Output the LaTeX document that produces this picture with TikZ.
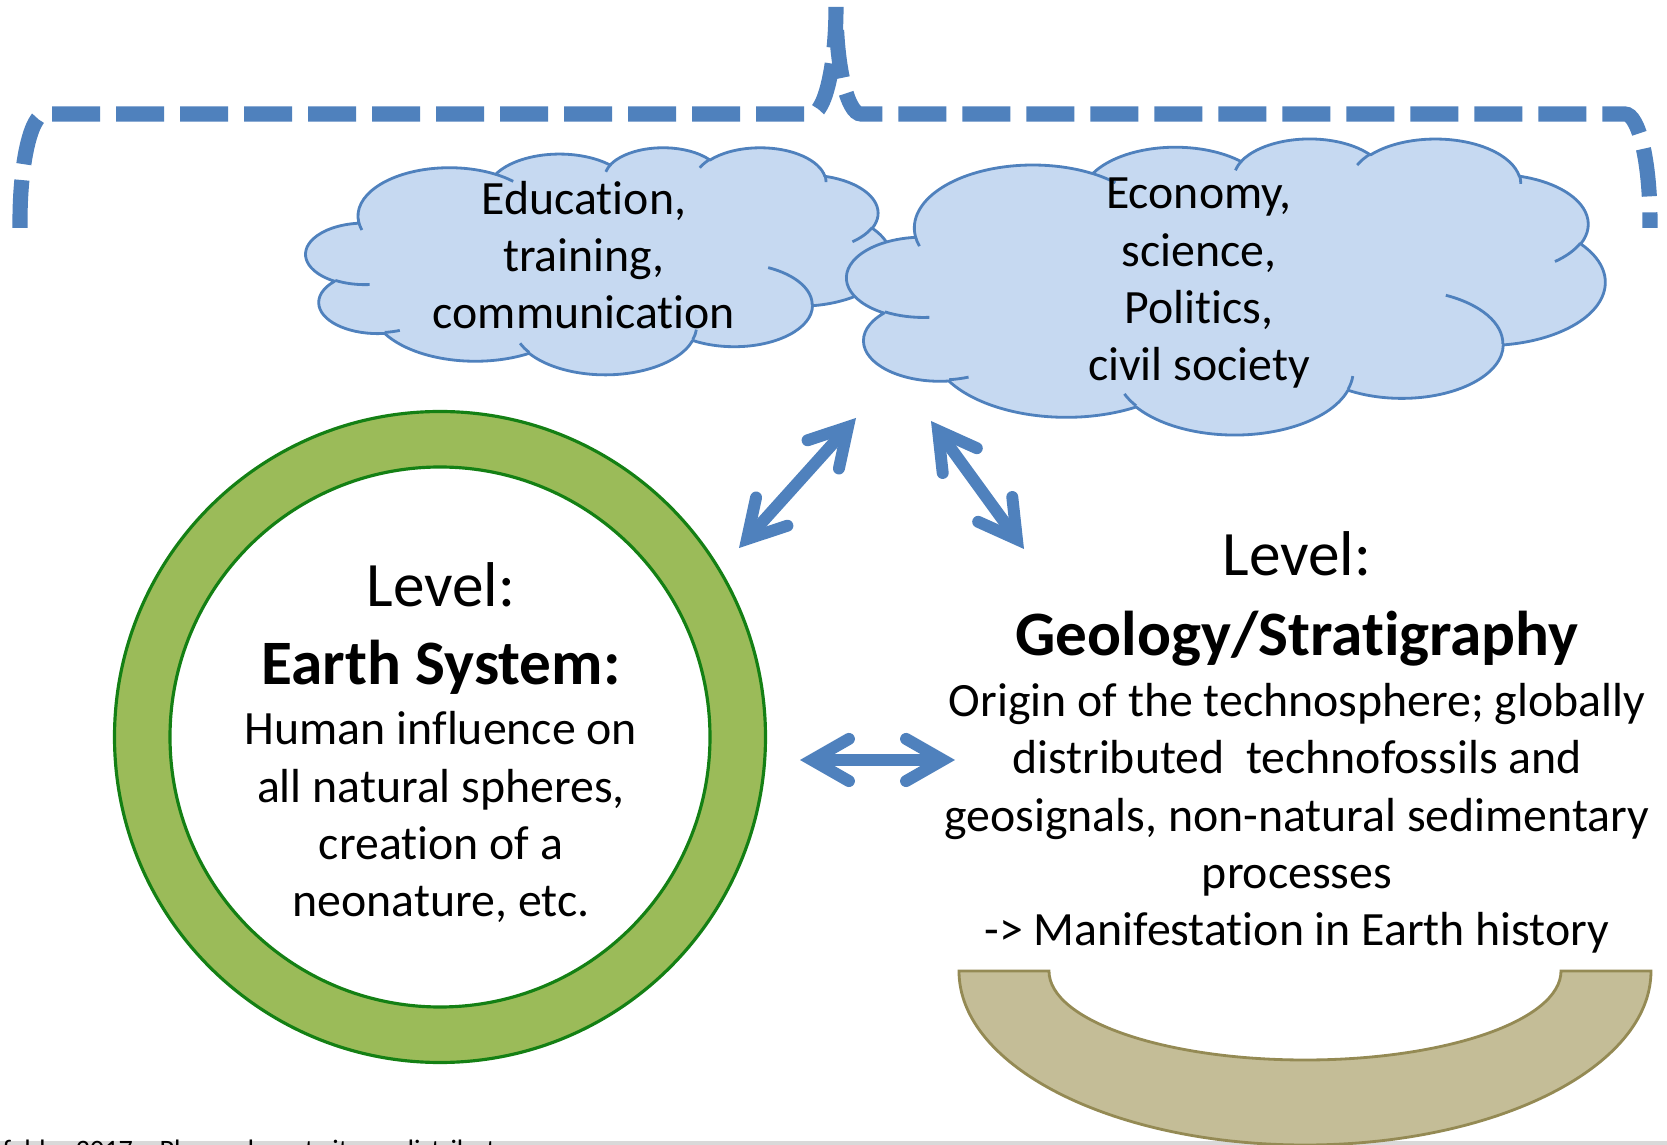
\documentclass[tikz,border=0pt]{standalone}
\usepackage{fontspec}
\setmainfont{Carlito}[Ligatures={TeX,NoCommon}]
\usetikzlibrary{arrows.meta}

\definecolor{accentblue}{RGB}{79,129,189}
\definecolor{cloudfill}{RGB}{198,217,241}
\definecolor{ringfill}{RGB}{155,187,89}
\definecolor{ringline}{RGB}{20,128,20}
\definecolor{bowlfill}{RGB}{196,189,151}
\definecolor{bowlline}{RGB}{148,138,84}
\definecolor{bandgray}{RGB}{217,217,217}

\newcommand\bodyfont{\fontsize{13.6}{16.35}\selectfont}
\newcommand\headfont{\fontsize{18}{21.6}\selectfont}

% Elliptical arc of the cloud outline: radii (kilo-units), visual start angle
% and sweep (degrees) converted to the parametric start angle and sweep.
\newcommand\setarc[5]{%
  \pgfmathsetmacro\tmpA{atan2(#2*sin(#4),#3*cos(#4))}%
  \pgfmathsetmacro\tmpB{atan2(#2*sin(#4+#5),#3*cos(#4+#5))}%
  \pgfmathsetmacro\tmpD{\tmpB-\tmpA}%
  \pgfmathsetmacro\tmpD{\tmpD+360*(#5>0)*(\tmpD<0)-360*(#5<0)*(\tmpD>0)}%
  \expandafter\xdef\csname arcS#1\endcsname{\tmpA}%
  \expandafter\xdef\csname arcD#1\endcsname{\tmpD}%
}
% outline puffs
\setarc{a}{6.753}{9.190}{-190.4875}{123.7805}
\setarc{b}{5.333}{7.267}{-144.1024}{89.9452}
\setarc{c}{4.365}{5.945}{-145.8079}{99.7230}
\setarc{d}{4.857}{6.595}{-130.9861}{117.2417}
\setarc{e}{5.333}{7.273}{-78.7089}{109.0269}
\setarc{f}{6.775}{9.220}{-46.2673}{130.2690}
\setarc{g}{5.785}{7.867}{0.6250}{114.0333}
\setarc{h}{6.752}{9.215}{22.4516}{115.1726}
\setarc{i}{7.720}{10.543}{66.2426}{75.7110}
\setarc{j}{4.360}{5.918}{-274.9421}{146.7356}
\setarc{k}{4.345}{5.945}{-246.8285}{152.5189}
% inner puff hints
\setarc{l}{4.345}{5.945}{86.742}{26.4295}
\setarc{m}{4.360}{5.918}{73.6105}{11.4475}
\setarc{n}{6.752}{9.215}{137.6242}{14.0811}
\setarc{o}{6.752}{9.215}{6.4533}{15.9984}
\setarc{p}{5.785}{7.867}{-70.2924}{70.9174}
\setarc{q}{5.333}{7.273}{30.3180}{27.7515}
\setarc{r}{4.857}{6.595}{-13.7443}{14.8589}
\setarc{s}{4.857}{6.595}{-149.1815}{18.1954}
\setarc{t}{4.365}{5.945}{-163.4943}{17.6864}
\setarc{u}{6.753}{9.190}{-66.7070}{12.3194}
\setarc{v}{6.753}{9.190}{157.6544}{11.8582}

% cloud in a 43.2 x 43.2 frame, y pointing down
\newcommand\cloudoutline[1]{%
  \path[#1] (3.900,14.370)
    arc[start angle=\arcSa, delta angle=\arcDa, x radius=6.753, y radius=9.190]
    arc[start angle=\arcSb, delta angle=\arcDb, x radius=5.333, y radius=7.267]
    arc[start angle=\arcSc, delta angle=\arcDc, x radius=4.365, y radius=5.945]
    arc[start angle=\arcSd, delta angle=\arcDd, x radius=4.857, y radius=6.595]
    arc[start angle=\arcSe, delta angle=\arcDe, x radius=5.333, y radius=7.273]
    arc[start angle=\arcSf, delta angle=\arcDf, x radius=6.775, y radius=9.220]
    arc[start angle=\arcSg, delta angle=\arcDg, x radius=5.785, y radius=7.867]
    arc[start angle=\arcSh, delta angle=\arcDh, x radius=6.752, y radius=9.215]
    arc[start angle=\arcSi, delta angle=\arcDi, x radius=7.720, y radius=10.543]
    arc[start angle=\arcSj, delta angle=\arcDj, x radius=4.360, y radius=5.918]
    arc[start angle=\arcSk, delta angle=\arcDk, x radius=4.345, y radius=5.945]
    -- cycle;}
\newcommand\cloudinner[1]{%
  \path[#1]
    (4.693,26.177) arc[start angle=\arcSl, delta angle=\arcDl, x radius=4.345, y radius=5.945]
    (6.928,34.899) arc[start angle=\arcSm, delta angle=\arcDm, x radius=4.360, y radius=5.918]
    (16.478,39.090) arc[start angle=\arcSn, delta angle=\arcDn, x radius=6.752, y radius=9.215]
    (28.827,34.751) arc[start angle=\arcSo, delta angle=\arcDo, x radius=6.752, y radius=9.215]
    (34.129,22.954) arc[start angle=\arcSp, delta angle=\arcDp, x radius=5.785, y radius=7.867]
    (41.798,15.354) arc[start angle=\arcSq, delta angle=\arcDq, x radius=5.333, y radius=7.273]
    (38.324,5.426) arc[start angle=\arcSr, delta angle=\arcDr, x radius=4.857, y radius=6.595]
    (29.078,3.952) arc[start angle=\arcSs, delta angle=\arcDs, x radius=4.857, y radius=6.595]
    (22.141,4.720) arc[start angle=\arcSt, delta angle=\arcDt, x radius=4.365, y radius=5.945]
    (14.000,5.192) arc[start angle=\arcSu, delta angle=\arcDu, x radius=6.753, y radius=9.190]
    (4.127,15.789) arc[start angle=\arcSv, delta angle=\arcDv, x radius=6.753, y radius=9.190];}

\tikzset{
  bracestroke/.style={accentblue, line width=4.3pt, line cap=butt,
    dash pattern=on 13.66pt off 4.55pt},
  cloudbody/.style={fill=cloudfill, draw=accentblue, line width=0.8pt, line join=round},
  cloudhint/.style={draw=accentblue, line width=0.8pt},
  % multi-line blocks are placed by the baseline of their last line
  bodytext/.style={font=\bodyfont, align=center, inner sep=0pt, anchor=base},
  headtext/.style={font=\headfont, inner sep=0pt, anchor=base},
  twoway/.style={accentblue, line width=3.4pt,
    {Straight Barb[length=10.5pt,width=12pt,line cap=round]}-{Straight Barb[length=10.5pt,width=12pt,line cap=round]}},
}

\begin{document}
\begin{tikzpicture}
\useasboundingbox (0,0) rectangle (16.67,11.45);
\fill[white] (0,0) rectangle (16.67,11.45);

% dashed brace over the two clouds
\draw[bracestroke] (0.20,9.17) -- (0.20,9.24)
  arc[start angle=180, end angle=90, x radius=0.25, y radius=1.07]
  -- (8.11,10.31)
  arc[start angle=270, end angle=360, x radius=0.25, y radius=1.07]
  arc[start angle=180, end angle=270, x radius=0.25, y radius=1.07]
  -- (16.25,10.31)
  arc[start angle=90, end angle=0, x radius=0.25, y radius=1.07]
  -- (16.50,9.17);

% clouds
\begin{scope}[shift={(3.06,9.98)}, xscale=0.135417, yscale=-0.052546]
  \cloudoutline{cloudbody}
  \cloudinner{cloudhint}
\end{scope}
\begin{scope}[shift={(8.47,10.07)}, xscale=0.175463, yscale=-0.068519]
  \cloudoutline{cloudbody}
  \cloudinner{cloudhint}
\end{scope}
\node[bodytext] (edu) at (5.84,8.16) {Education,\\training,\\communication};
\node[bodytext] (eco) at (11.99,7.64) {Economy,\\science,\\Politics,\\civil society};

% Earth system ring
\coordinate (ringc) at (4.40,4.08);
\path[fill=ringfill, draw=ringline, line width=0.9pt, even odd rule]
  (ringc) circle[radius=3.255] (ringc) circle[radius=2.70];
\node[headtext] (eslevel) at (4.41,5.38) {Level:};
\node[headtext, font=\headfont\bfseries] (estitle) at (4.41,4.60) {Earth System:};
\node[bodytext] (esbody) at (4.41,2.28)
  {Human influence on\\all natural spheres,\\creation of a\\neonature, etc.};

% geology block
\node[headtext] (geolevel) at (12.97,5.69) {Level:};
\node[headtext, font=\headfont\bfseries] (geotitle) at (12.97,4.89) {Geology/Stratigraphy};
\node[bodytext] (geobody) at (12.97,1.99)
  {Origin of the technosphere; globally\\distributed\ \ technofossils and\\geosignals, non-natural sedimentary\\processes\\-> Manifestation in Earth history};

% footer band and credit line
\fill[bandgray] (0,0) rectangle (16.67,0.04);
\begin{scope}
  \clip (0,0) rectangle (16.67,11.45);
  \node[anchor=base west, font=\fontsize{8}{9.6}\selectfont, inner sep=0pt] (credit)
    at (-0.45,-0.15) {Leinfelder 2017 – Please do not cite or distribute};
\end{scope}

% sediment bowl
\path[fill=bowlfill, draw=bowlline, line width=0.8pt]
  (9.59,1.74) arc[start angle=180, end angle=360, x radius=3.46, y radius=1.74]
  -- (15.61,1.74) arc[start angle=360, end angle=180, x radius=2.56, y radius=0.89]
  -- cycle;

% interaction arrows
\coordinate (toEarthA) at (7.39,5.97);
\coordinate (toCloudA) at (8.56,7.27);
\coordinate (toCloudB) at (9.31,7.24);
\coordinate (toGeoB) at (10.24,5.96);
\coordinate (toEarthC) at (8.00,3.85);
\coordinate (toGeoC) at (9.55,3.85);
\draw[twoway] (toEarthA) -- (toCloudA);
\draw[twoway] (toCloudB) -- (toGeoB);
\draw[twoway] (toEarthC) -- (toGeoC);
\end{tikzpicture}
\end{document}
